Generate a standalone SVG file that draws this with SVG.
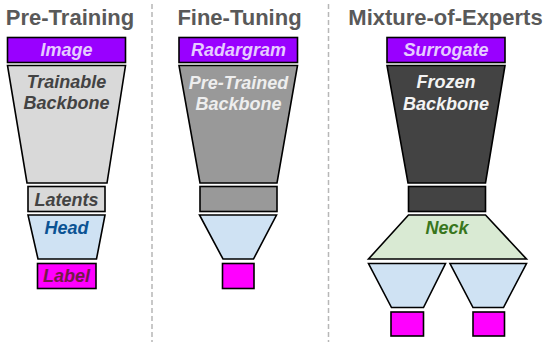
<svg xmlns="http://www.w3.org/2000/svg" width="550" height="342" viewBox="0 0 550 342">
<style>
.bg{fill:#ffffff}
.title{font-family:"Liberation Sans",Arial,sans-serif;font-weight:bold;font-size:22px;fill:#595959;text-anchor:middle}
.lbl{font-family:"Liberation Sans",Arial,sans-serif;font-weight:bold;font-style:italic;font-size:18px;text-anchor:middle}
.s{stroke:#000000;stroke-width:1.6;stroke-linejoin:miter}
.purple{fill:#9900ff}
.lgray{fill:#d9d9d9}
.mgray{fill:#999999}
.dgray{fill:#434343}
.blue{fill:#cfe2f3}
.green{fill:#d9ead3}
.mag{fill:#ff00ff}
.div{stroke:#b7b7b7;stroke-width:1.5;stroke-dasharray:5 3;fill:none}
</style>
<rect class="bg" x="0" y="0" width="550" height="342"/>
<g id="dividers">
<line class="div" x1="152" y1="4" x2="152" y2="342"/>
<line class="div" x1="328.5" y1="4" x2="328.5" y2="342"/>
</g>
<g id="titles">
<text class="title" x="70" y="25">Pre-Training</text>
<text class="title" x="239.5" y="25">Fine-Tuning</text>
<text class="title" x="445.5" y="25">Mixture-of-Experts</text>
</g>
<g id="pt-image"><rect class="s purple" x="7.5" y="37.5" width="118" height="25"/><text class="lbl" x="66.5" y="56" fill="#e6ccff">Image</text></g>
<g id="pt-backbone"><polygon class="s lgray" points="7.5,65.5 125.5,65.5 107,183 27,183"/><text class="lbl" x="66.5" y="88" fill="#434343">Trainable</text><text class="lbl" x="66.5" y="109" fill="#434343">Backbone</text></g>
<g id="pt-latents"><rect class="s lgray" x="28" y="186.5" width="77" height="25"/><text class="lbl" x="66.5" y="205.5" fill="#434343">Latents</text></g>
<g id="pt-head"><polygon class="s blue" points="28,215 105,215 96.5,259 38,259"/><text class="lbl" x="66.5" y="234" fill="#0b5394">Head</text></g>
<g id="pt-label"><rect class="s mag" x="37.5" y="263.5" width="58.5" height="25"/><text class="lbl" x="66.5" y="282" fill="#741b47">Label</text></g>

<g id="ft-radargram"><rect class="s purple" x="179" y="37.5" width="118.5" height="25"/><text class="lbl" x="238.5" y="56" fill="#e6ccff">Radargram</text></g>
<g id="ft-backbone"><polygon class="s mgray" points="179,65.5 297.5,65.5 277,183 200,183"/><text class="lbl" x="238.5" y="89" fill="#eeeeee">Pre-Trained</text><text class="lbl" x="238.5" y="110" fill="#eeeeee">Backbone</text></g>
<g id="ft-latents"><rect class="s mgray" x="200" y="186.5" width="77" height="25"/></g>
<g id="ft-head"><polygon class="s blue" points="199.5,215 276.5,215 253.5,259 223,259"/></g>
<g id="ft-label"><rect class="s mag" x="222.5" y="263.5" width="31.5" height="25"/></g>

<g id="moe-surrogate"><rect class="s purple" x="387" y="37.5" width="118" height="25"/><text class="lbl" x="446" y="56" fill="#e6ccff">Surrogate</text></g>
<g id="moe-backbone"><polygon class="s dgray" points="387,65.5 505,65.5 485.5,183 408,183"/><text class="lbl" x="446" y="88" fill="#f3f3f3">Frozen</text><text class="lbl" x="446" y="110" fill="#f3f3f3">Backbone</text></g>
<g id="moe-latents"><rect class="s dgray" x="408.5" y="186.5" width="77" height="25"/></g>
<g id="moe-neck"><polygon class="s green" points="408.5,215 485.5,215 526.5,259 368.5,259"/><text class="lbl" x="447" y="234" fill="#38761d">Neck</text></g>
<g id="moe-head1"><polygon class="s blue" points="368.5,263.5 445.5,263.5 423.5,307.5 391.5,307.5"/></g>
<g id="moe-head2"><polygon class="s blue" points="450,263.5 526.5,263.5 503.5,307.5 473,307.5"/></g>
<g id="moe-label1"><rect class="s mag" x="391" y="312" width="32.5" height="24"/></g>
<g id="moe-label2"><rect class="s mag" x="473" y="312" width="31.5" height="24"/></g>
</svg>
